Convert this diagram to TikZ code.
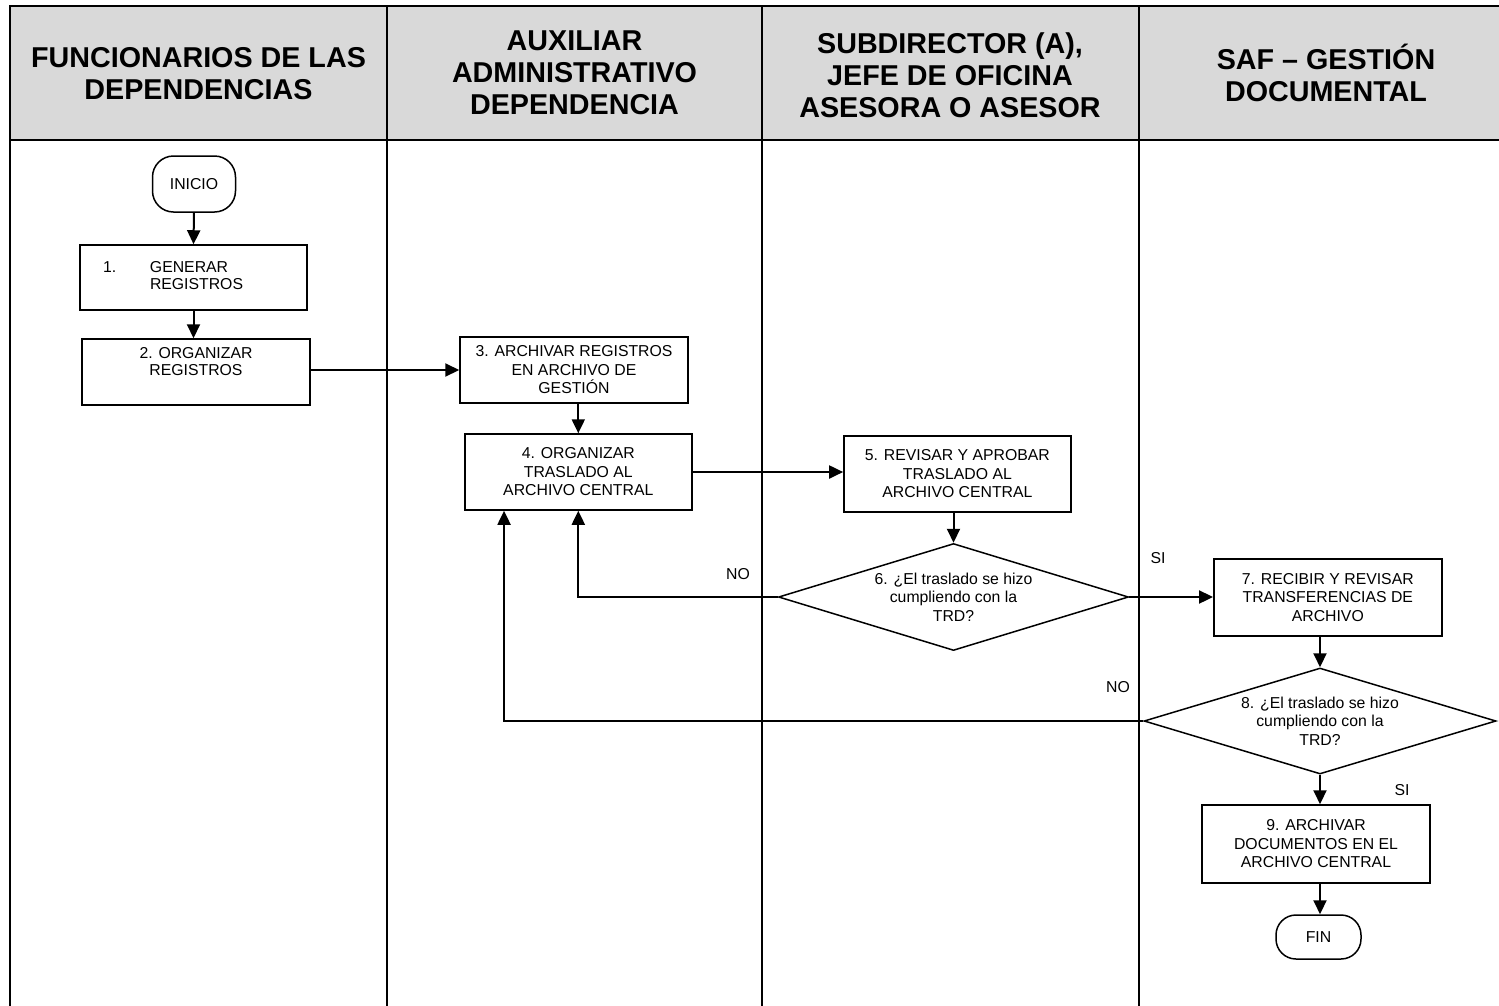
\documentclass[tikz,border=0pt]{standalone}
\usepackage{fontspec}
\setmainfont{Liberation Sans}
\usetikzlibrary{arrows.meta,shapes.geometric}
\definecolor{hdr}{RGB}{217,217,217}
\begin{document}
\begin{tikzpicture}[x=1pt,y=-1pt,
  every node/.style={font=\fontsize{15.8}{18.5}\selectfont, inner sep=0pt},
  tbl/.style={line width=1.8pt},
  hdrtext/.style={align=center, font=\fontsize{28.7}{32}\selectfont\bfseries},
  box/.style={draw, line width=1.5pt, align=center},
  term/.style={draw, line width=1.5pt, rounded corners=21pt},
  dec/.style={draw, diamond, line width=1.5pt, align=center, aspect=3.27},
  arr/.style={line width=2pt, -{Triangle[length=14pt,width=13pt]}},
  lbl/.style={}
]
\useasboundingbox (0,0) rectangle (1499,1005);
% table
\fill[hdr] (10,6) rectangle (1505,140);
\draw[tbl] (1505,6) -- (10,6) -- (10,1010);
\draw[tbl] (10,140) -- (1505,140);
\draw[tbl] (387,6) -- (387,1010);
\draw[tbl] (762,6) -- (762,1010);
\draw[tbl] (1139,6) -- (1139,1010);
% headers
\node[hdrtext] (h1) at (198.5,73.5) {FUNCIONARIOS DE LAS\\DEPENDENCIAS};
\node[hdrtext] (h2) at (574.5,72.5) {AUXILIAR\\ADMINISTRATIVO\\DEPENDENCIA};
\node[hdrtext] (h3) at (950,75) {SUBDIRECTOR (A),\\JEFE DE OFICINA\\ASESORA O ASESOR};
\node[hdrtext] (h4) at (1326,72.5) {SAF -- GESTIÓN\\DOCUMENTAL};
% nodes
\node[term, minimum width=83pt, minimum height=56pt] (ini) at (194,184) {INICIO};
\node[box, minimum width=227pt, minimum height=65pt] (b1) at (193.5,277.5)
  {\parbox[c][62pt][t]{224pt}{\baselineskip=17pt\vspace*{14.5pt}\hspace*{21.5pt}\makebox[47pt][l]{1.}GENERAR\\\hspace*{68.5pt}REGISTROS}};
\node[box, minimum width=228pt, minimum height=66pt] (b2) at (196,372)
  {\parbox[c][63pt][t]{225pt}{\centering\baselineskip=17.5pt\vspace*{6.5pt}2. ORGANIZAR\\REGISTROS}};
\node[box, minimum width=228pt, minimum height=66pt] (b3) at (574,370) {3. ARCHIVAR REGISTROS\\EN ARCHIVO DE\\GESTIÓN};
\node[box, minimum width=227pt, minimum height=76pt] (b4) at (578.3,472) {4. ORGANIZAR\\TRASLADO AL\\ARCHIVO CENTRAL};
\node[box, minimum width=227pt, minimum height=76pt] (b5) at (957.4,474) {5. REVISAR Y APROBAR\\TRASLADO AL\\ARCHIVO CENTRAL};
\node[dec, minimum width=350pt, minimum height=107pt] (d6) at (953.5,597) {6. ¿El traslado se hizo\\cumpliendo con la\\TRD?};
\node[box, minimum width=228pt, minimum height=77pt] (b7) at (1327.8,597.5) {7. RECIBIR Y REVISAR\\TRANSFERENCIAS DE\\ARCHIVO};
\node[dec, minimum width=352pt, minimum height=106pt] (d8) at (1320,721) {8. ¿El traslado se hizo\\cumpliendo con la\\TRD?};
\node[box, minimum width=228pt, minimum height=78pt] (b9) at (1316,844) {9. ARCHIVAR\\DOCUMENTOS EN EL\\ARCHIVO CENTRAL};
\node[term, minimum width=85pt, minimum height=44pt, rounded corners=20pt] (fin) at (1318.5,937) {FIN};
% labels
\node[lbl] (no1) at (738,574) {NO};
\node[lbl] (no2) at (1118,687) {NO};
\node[lbl] (si1) at (1158,558) {SI};
\node[lbl] (si2) at (1402,790) {SI};
\coordinate (r2) at ([xshift=40pt]b4.south west);
% connectors
\draw[arr] (ini.south) -- (b1.north);
\draw[arr] (b1.south) -- (b1.south |- b2.north);
\draw[arr] (b3.west -| b2.east) -- (b3.west);
\draw[arr] (b3.south -| b4.north) -- (b4.north);
\draw[arr] (b4.east) -- (b4.east -| b5.west);
\draw[arr] (b5.south -| d6.north) -- (d6.north);
\draw[arr] (d6.east) -- (d6.east -| b7.west);
\draw[arr] (d6.west) -| (b4.south);
\draw[arr] (b7.south -| d8.north) -- (d8.north);
\draw[arr] (d8.west) -| (r2);
\draw[arr] (d8.south) -- (d8.south |- b9.north);
\draw[arr] (b9.south -| d8.south) -- (d8.south |- fin.north);
\end{tikzpicture}
\end{document}
